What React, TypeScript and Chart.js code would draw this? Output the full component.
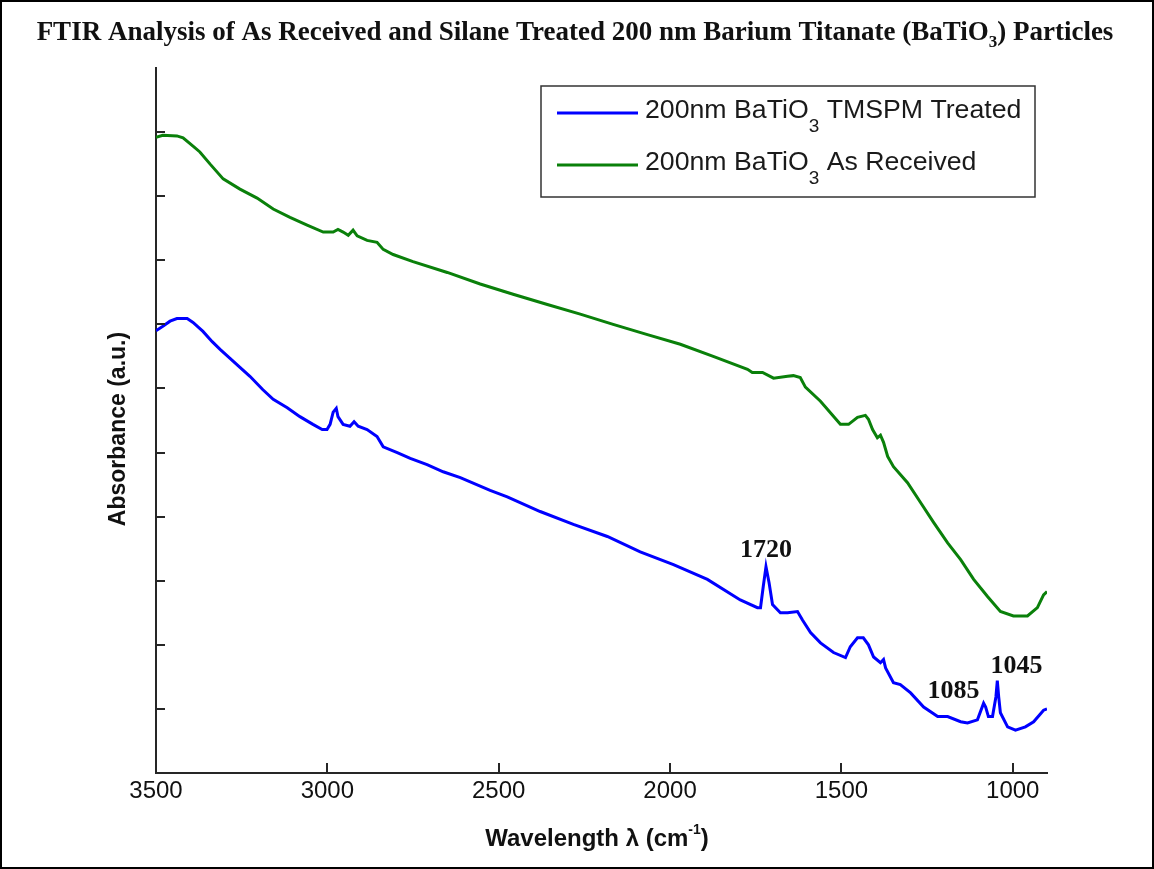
import React, { useEffect, useRef } from 'react';
import { Chart, registerables } from 'chart.js';

Chart.register(...registerables);

// ---------- data ----------
const treatedWavenumber = [
  3500, 3480, 3459, 3439, 3409, 3392, 3363, 3336, 3313, 3284, 3255, 3226, 3188, 3158, 3117, 3080,
  3042, 3015, 3001, 2992, 2983, 2974, 2969, 2954, 2934, 2922, 2910, 2884, 2855, 2837, 2796, 2758,
  2709, 2662, 2612, 2525, 2475, 2379, 2282, 2183, 2087, 1990, 1891, 1795, 1745, 1736, 1728, 1720,
  1711, 1701, 1678, 1657, 1628, 1614, 1590, 1561, 1523, 1488, 1474, 1453, 1436, 1421, 1406, 1386,
  1377, 1371, 1348, 1328, 1298, 1260, 1219, 1190, 1152, 1132, 1103, 1085, 1079, 1071, 1059, 1049,
  1045, 1041, 1036, 1015, 992, 963, 939, 910, 900,
];
const treatedAbsorbance = [
  6.9, 6.97, 7.05, 7.09, 7.09, 7.03, 6.89, 6.73, 6.61, 6.47, 6.33, 6.19, 5.98, 5.83, 5.7, 5.56,
  5.44, 5.36, 5.36, 5.44, 5.63, 5.69, 5.56, 5.44, 5.41, 5.48, 5.41, 5.36, 5.25, 5.09, 5.0, 4.91,
  4.81, 4.7, 4.61, 4.41, 4.31, 4.08, 3.88, 3.69, 3.45, 3.25, 3.02, 2.7, 2.58, 2.58, 2.91, 3.22,
  2.97, 2.63, 2.5, 2.5, 2.52, 2.39, 2.19, 2.03, 1.88, 1.8, 1.97, 2.11, 2.11, 2.0, 1.81, 1.72,
  1.77, 1.64, 1.41, 1.38, 1.25, 1.03, 0.88, 0.88, 0.8, 0.78, 0.83, 1.09, 1.03, 0.88, 0.88, 1.19,
  1.44, 1.19, 0.94, 0.72, 0.67, 0.72, 0.8, 0.98, 1.0,
];

const receivedWavenumber = [
  3500, 3480, 3439, 3421, 3392, 3372, 3342, 3304, 3255, 3205, 3158, 3109, 3059, 3012, 2983, 2969,
  2954, 2939, 2925, 2913, 2884, 2855, 2837, 2808, 2750, 2650, 2554, 2458, 2358, 2262, 2166, 2066,
  1970, 1874, 1774, 1760, 1730, 1698, 1657, 1640, 1620, 1605, 1561, 1503, 1479, 1453, 1430, 1421,
  1409, 1395, 1386, 1377, 1365, 1348, 1307, 1269, 1231, 1190, 1152, 1114, 1073, 1036, 998, 957,
  928, 910, 900,
];
const receivedAbsorbance = [
  9.92, 9.95, 9.94, 9.91, 9.78, 9.69, 9.5, 9.27, 9.11, 8.97, 8.8, 8.67, 8.55, 8.44, 8.44, 8.48,
  8.44, 8.39, 8.47, 8.38, 8.31, 8.28, 8.17, 8.09, 7.98, 7.81, 7.63, 7.47, 7.31, 7.16, 7.0, 6.84,
  6.69, 6.5, 6.3, 6.25, 6.25, 6.16, 6.19, 6.2, 6.17, 6.02, 5.8, 5.44, 5.44, 5.55, 5.58, 5.52,
  5.36, 5.23, 5.27, 5.16, 4.94, 4.78, 4.53, 4.22, 3.91, 3.59, 3.33, 3.02, 2.75, 2.52, 2.45, 2.45,
  2.58, 2.78, 2.83,
];

const xTickValues = [3500, 3000, 2500, 2000, 1500, 1000];
const yTickValues = [1, 2, 3, 4, 5, 6, 7, 8, 9, 10];

// legend label pieces: [before subscript, subscript, after subscript]
const treatedLabel = ['200nm BaTiO', '3', ' TMSPM Treated'];
const receivedLabel = ['200nm BaTiO', '3', ' As Received'];

const titleParts = ['FTIR Analysis of As Received and Silane Treated 200 nm Barium Titanate (BaTiO', '3', ') Particles'];
const yTitle = 'Absorbance (a.u.)';
const xTitleParts = ['Wavelength \u03bb (cm', '-1', ')'];

const peakLabels = [
  { text: '1720', x: 1720, y: 3.47 },
  { text: '1085', x: 1173, y: 1.27 },
  { text: '1045', x: 989, y: 1.67 },
];

const BLUE = '#0000ff';
const GREEN = '#0a800a';
const AXIS = '#262626';

type Part = { t: string; font: string; dy: number };

function drawParts(ctx: CanvasRenderingContext2D, parts: Part[], cx: number, y: number) {
  let total = 0;
  const widths = parts.map((p) => {
    ctx.font = p.font;
    const w = ctx.measureText(p.t).width;
    total += w;
    return w;
  });
  let x = cx - total / 2;
  ctx.textAlign = 'left';
  ctx.textBaseline = 'alphabetic';
  parts.forEach((p, i) => {
    ctx.font = p.font;
    ctx.fillText(p.t, x, y + p.dy);
    x += widths[i];
  });
}

function drawPartsLeft(ctx: CanvasRenderingContext2D, parts: Part[], x0: number, y: number) {
  let x = x0;
  ctx.textAlign = 'left';
  ctx.textBaseline = 'alphabetic';
  parts.forEach((p) => {
    ctx.font = p.font;
    ctx.fillText(p.t, x, y + p.dy);
    x += ctx.measureText(p.t).width;
  });
}

const overlayPlugin = {
  id: 'overlay',
  afterDraw(chart: any) {
    const { ctx, chartArea, scales } = chart;
    const xs = scales.x;
    const ys = scales.y;
    ctx.save();

    // outer frame
    ctx.strokeStyle = '#000';
    ctx.lineWidth = 2;
    ctx.strokeRect(1, 1, chart.width - 2, chart.height - 2);

    // inward tick marks
    ctx.strokeStyle = AXIS;
    ctx.lineWidth = 2;
    ctx.beginPath();
    xTickValues.forEach((v) => {
      const px = Math.round(xs.getPixelForValue(v));
      ctx.moveTo(px, chartArea.bottom);
      ctx.lineTo(px, chartArea.bottom - 10);
    });
    yTickValues.forEach((v) => {
      const py = Math.round(ys.getPixelForValue(v));
      ctx.moveTo(chartArea.left, py);
      ctx.lineTo(chartArea.left + 9, py);
    });
    ctx.stroke();

    // chart title
    ctx.fillStyle = '#111';
    const tf = 'bold 27px "Liberation Serif", "Times New Roman", serif';
    const tfs = 'bold 17px "Liberation Serif", "Times New Roman", serif';
    drawParts(
      ctx,
      [
        { t: titleParts[0], font: tf, dy: 0 },
        { t: titleParts[1], font: tfs, dy: 7 },
        { t: titleParts[2], font: tf, dy: 0 },
      ],
      575,
      40
    );

    // y axis title
    ctx.save();
    ctx.translate(119, 429);
    ctx.rotate(-Math.PI / 2);
    ctx.font = 'bold 23px "Liberation Sans", Arial, sans-serif';
    ctx.textAlign = 'center';
    ctx.textBaseline = 'middle';
    ctx.fillStyle = '#111';
    ctx.fillText(yTitle, 0, 0);
    ctx.restore();

    // x axis title
    const xf = 'bold 24px "Liberation Sans", Arial, sans-serif';
    const xfs = 'bold 14px "Liberation Sans", Arial, sans-serif';
    drawParts(
      ctx,
      [
        { t: xTitleParts[0], font: xf, dy: 0 },
        { t: xTitleParts[1], font: xfs, dy: -12 },
        { t: xTitleParts[2], font: xf, dy: 0 },
      ],
      597,
      846
    );

    // legend
    const lx = 541;
    const ly = 86;
    const lw = 494;
    const lh = 111;
    ctx.fillStyle = '#fff';
    ctx.fillRect(lx, ly, lw, lh);
    ctx.strokeStyle = '#333';
    ctx.lineWidth = 1.5;
    ctx.strokeRect(lx, ly, lw, lh);
    const rows = [
      { label: treatedLabel, color: chart.data.datasets[0].borderColor },
      { label: receivedLabel, color: chart.data.datasets[1].borderColor },
    ];
    const lf = '26.7px "Liberation Sans", Arial, sans-serif';
    const lfs = '19px "Liberation Sans", Arial, sans-serif';
    rows.forEach((r, i) => {
      const lineY = 113 + i * 52;
      ctx.strokeStyle = r.color;
      ctx.lineWidth = 3;
      ctx.beginPath();
      ctx.moveTo(557, lineY);
      ctx.lineTo(638, lineY);
      ctx.stroke();
      ctx.fillStyle = '#1a1a1a';
      drawPartsLeft(
        ctx,
        [
          { t: r.label[0], font: lf, dy: 0 },
          { t: r.label[1], font: lfs, dy: 14 },
          { t: r.label[2], font: lf, dy: 0 },
        ],
        645,
        lineY + 5
      );
    });

    // peak annotations
    ctx.font = 'bold 26px "Liberation Serif", "Times New Roman", serif';
    ctx.fillStyle = '#111';
    ctx.textAlign = 'center';
    ctx.textBaseline = 'middle';
    peakLabels.forEach((p) => {
      ctx.fillText(p.text, xs.getPixelForValue(p.x), ys.getPixelForValue(p.y));
    });

    ctx.restore();
  },
};

export default function App() {
  const canvasRef = useRef<HTMLCanvasElement>(null);

  useEffect(() => {
    const canvas = canvasRef.current;
    if (!canvas) return;
    const chart = new Chart(canvas, {
      type: 'line',
      data: {
        datasets: [
          {
            label: treatedLabel.join(''),
            data: treatedWavenumber.map((x, i) => ({ x, y: treatedAbsorbance[i] })),
            borderColor: BLUE,
            borderWidth: 3,
            pointRadius: 0,
            tension: 0,
            fill: false,
          },
          {
            label: receivedLabel.join(''),
            data: receivedWavenumber.map((x, i) => ({ x, y: receivedAbsorbance[i] })),
            borderColor: GREEN,
            borderWidth: 3,
            pointRadius: 0,
            tension: 0,
            fill: false,
          },
        ],
      },
      options: {
        responsive: false,
        animation: false,
        devicePixelRatio: 1,
        layout: { padding: { left: 0, right: 107, top: 68, bottom: 0 } },
        plugins: {
          legend: { display: false },
          title: { display: false },
          tooltip: { enabled: false },
        },
        scales: {
          x: {
            type: 'linear',
            reverse: true,
            min: 900,
            max: 3500,
            afterBuildTicks: (s: any) => {
              s.ticks = xTickValues.slice().sort((a, b) => a - b).map((v) => ({ value: v }));
            },
            afterFit: (s: any) => {
              s.height = 96;
            },
            ticks: {
              padding: 4,
              autoSkip: false,
              maxRotation: 0,
              color: '#111',
              font: { family: '"Liberation Sans", Arial, sans-serif', size: 24 },
              callback: (v: any) => String(v),
            },
            grid: { display: false, drawTicks: false },
            border: { display: true, color: AXIS, width: 2 },
          },
          y: {
            type: 'linear',
            min: 0,
            max: 11,
            afterFit: (s: any) => {
              s.width = 156;
            },
            ticks: { display: false, stepSize: 1 },
            grid: { display: false, drawTicks: false },
            border: { display: true, color: AXIS, width: 2 },
          },
        },
      },
      plugins: [overlayPlugin],
    } as any);
    return () => chart.destroy();
  }, []);

  return (
    <div style={{ position: 'fixed', left: 0, top: 0, width: 1154, height: 869, background: '#fff' }}>
      <canvas ref={canvasRef} width={1154} height={869} style={{ display: 'block' }} />
    </div>
  );
}
